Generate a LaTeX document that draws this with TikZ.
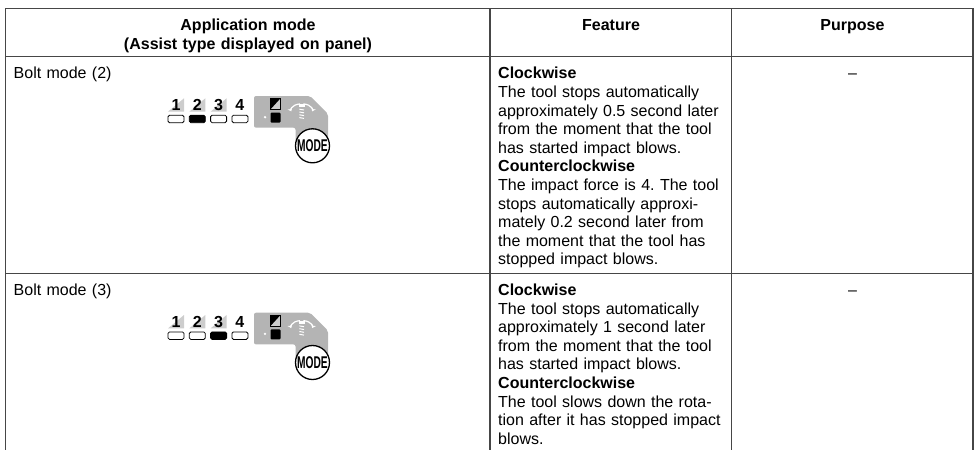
\documentclass[tikz,border=0pt]{standalone}
\usepackage{fontspec}
\setmainfont{Liberation Sans}
\frenchspacing
\usetikzlibrary{positioning,arrows.meta}
\definecolor{tablegrey}{RGB}{70,70,70}
\definecolor{panelgrey}{RGB}{180,180,180}
\definecolor{shadegrey}{RGB}{205,205,205}
\tikzset{
    grid/.style={line width=1.3pt, draw=tablegrey},
    headtext/.style={font=\bfseries\fontsize{16}{18.6}\selectfont, inner sep=0pt, anchor=base},
    celltext/.style={font=\fontsize{16}{18.6}\selectfont, inner sep=0pt, anchor=base},
    bodytext/.style={font=\fontsize{16}{18.6}\selectfont, inner sep=0pt, anchor=base west, text width=232pt, align=left},
    digit/.style={font=\bfseries\fontsize{16}{16}\selectfont, inner sep=0pt, anchor=base},
    lamp/.style={draw=black, line width=0.8pt, rounded corners=1.5pt},
    modebutton/.style={circle, draw=black, line width=1.3pt, fill=white, minimum size=34pt, inner sep=0pt, font=\bfseries\fontsize{17}{17}\selectfont},
    turnarrow/.style={white, line width=1.2pt, -{Stealth[length=3.5pt,width=5pt]}},
    pics/modepanel/.style={code={
        % assist level lamps 1-4
        \foreach \i in {1,...,4}{
            \pgfmathsetmacro\lx{168+21.3*(\i-1)}
            \ifnum\i=#1 \def\lampfill{black}\else\def\lampfill{white}\fi
            \ifnum\i<4 \fill[shadegrey] (\lx,55) -- (\lx+16,55) -- (\lx+16,41.6) -- cycle;\fi
            \node[digit] (digit\i) at (\lx+8,54) {\i};
            \draw[lamp, fill=\lampfill] (\lx,58.5) rectangle (\lx+16,66);
        }
        % grey panel with mode button
        \fill[panelgrey, rounded corners=2pt] (254,39.3) -- (310,39.3) -- (328,57.3) -- (328,89) -- (295.5,89) -- (295.5,71) -- (254,71) -- cycle;
        \fill[shadegrey] (270.5,41.6) rectangle (280.5,52.6);
        \fill[black] (270.5,41.6) -- (280.5,41.6) -- (270.5,52.6) -- cycle;
        \draw[black, line width=0.6pt] (270.5,41.6) rectangle (280.5,52.6);
        \fill[black, rounded corners=1pt] (270.5,56) rectangle (280.5,66);
        \fill[white] (265,60.5) circle[radius=1.3pt];
        % turning screw sign
        \draw[turnarrow] (300,47.2) arc[start angle=100, end angle=195, x radius=11pt, y radius=6pt];
        \draw[turnarrow] (303.4,47.2) arc[start angle=80, end angle=-15, x radius=11pt, y radius=6pt];
        \fill[white] (298.7,47.5) rectangle (304.7,50.5);
        \foreach \t in {52.5,55.3,58.1,60.9}{
            \draw[white, line width=1pt] (299.4,\t) -- (304,\t+0.8);
        }
        \node[modebutton] (button) at (312.5,89.1) {\scalebox{0.6}[1]{MODE}};
    }}
}

\begin{document}
\begin{tikzpicture}[x=1pt, y=-1pt]
    \useasboundingbox (0,0) rectangle (978,450);

    % Table lines
    \draw[grid] (5.5,8.3) -- (973,8.3);
    \draw[grid] (5.5,56.7) -- (973,56.7);
    \draw[grid] (5.5,273.4) -- (973,273.4);
    \draw[grid] (5.5,8.3) -- (5.5,450);
    \draw[grid] (490,8.3) -- (490,450);
    \draw[grid] (731.7,8.3) -- (731.7,450);
    \draw[grid] (973,8.3) -- (973,450);

    % Header
    \node[headtext, text width=470pt, align=center] (appmode) at (248,30.5) {Application mode\\(Assist type displayed on panel)};
    \node[headtext] (feature) at (611,30.5) {Feature};
    \node[headtext] (purpose) at (852.5,30.5) {Purpose};

    % Bolt mode (2)
    \node[bodytext] (bolt2) at (13.5,78.8) {Bolt mode (2)};
    \pic (panel2) at (0,56.7) {modepanel=2};
    \node[bodytext] (feature2) at (498,78.8) {\textbf{Clockwise}\\
        The tool stops automatically\\
        approximately 0.5 second later\\
        from the moment that the tool\\
        has started impact blows.\\
        \textbf{Counterclockwise}\\
        The impact force is 4. The tool\\
        stops automatically approxi-\\
        mately 0.2 second later from\\
        the moment that the tool has\\
        stopped impact blows.};
    \node[celltext] (purpose2) at (852.5,78.8) {–};

    % Bolt mode (3)
    \node[bodytext] (bolt3) at (13.5,295.5) {Bolt mode (3)};
    \pic (panel3) at (0,273.4) {modepanel=3};
    \node[bodytext] (feature3) at (498,295.5) {\textbf{Clockwise}\\
        The tool stops automatically\\
        approximately 1 second later\\
        from the moment that the tool\\
        has started impact blows.\\
        \textbf{Counterclockwise}\\
        The tool slows down the rota-\\
        tion after it has stopped impact\\
        blows.};
    \node[celltext] (purpose3) at (852.5,295.5) {–};
\end{tikzpicture}
\end{document}
